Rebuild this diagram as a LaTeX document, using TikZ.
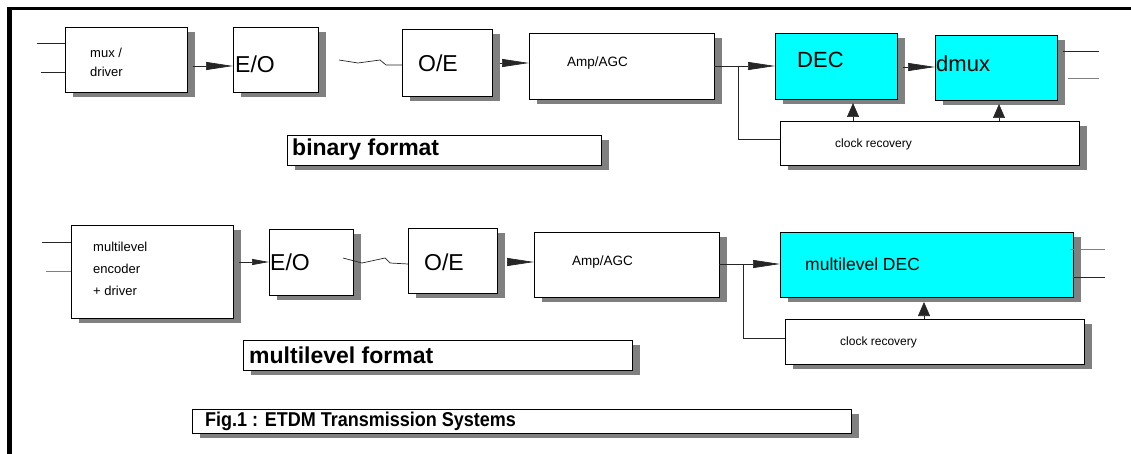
\documentclass[tikz,border=0pt]{standalone}
\usepackage{fontspec}
\usepackage{graphicx}
\setmainfont{Liberation Sans}
\usetikzlibrary{arrows.meta,shadows}
\definecolor{shd}{gray}{0.5}
\definecolor{cyanbox}{RGB}{0,255,255}
\begin{document}
\begin{tikzpicture}[x=1pt,y=-1pt,
  box/.style={draw=black, line width=0.8pt, fill=white, inner sep=0pt, outer sep=0pt, anchor=north west,
    drop shadow={shadow xshift=7.5pt, shadow yshift=-5pt, fill=shd, opacity=1}},
  cbox/.style={box, fill=cyanbox},
  lbl/.style={anchor=west, inner sep=0pt, font=\fontsize{13}{13}\selectfont},
  big/.style={anchor=west, inner sep=0pt, font=\fontsize{23}{23}\selectfont},
  ttl/.style={anchor=west, inner sep=0pt, font=\fontsize{23}{23}\selectfont\bfseries},
  wire/.style={line width=0.7pt, draw=black!85},
  arr/.style={wire, -{Triangle[length=27pt,width=8pt]}},
  sarr/.style={wire, -{Triangle[length=17pt,width=6pt]}},
  uparr/.style={wire, -{Triangle[length=14pt,width=12pt]}},
]
\useasboundingbox (0,0) rectangle (1131,454);
% frame
\draw[line width=5pt] (9,7) -- (9,454);
\draw[line width=3pt] (6.5,9) -- (1131,9);

% ---------- row 1: binary ----------
\node[box, minimum width=122pt, minimum height=65pt] (mux) at (65,27) {};
\node[box, minimum width=85pt, minimum height=65pt] (eo1) at (233,27) {};
\node[box, minimum width=90pt, minimum height=67pt] (oe1) at (402,29) {};
\node[box, minimum width=185pt, minimum height=66pt] (amp1) at (529,33) {};
\node[cbox, minimum width=122pt, minimum height=66pt] (dec1) at (775,33) {};
\node[cbox, minimum width=122pt, minimum height=65pt] (dmux) at (935,35) {};
\node[box, minimum width=299pt, minimum height=44pt] (clk1) at (780,121) {};
\node[box, minimum width=314pt, minimum height=30pt] (bin) at (287,135) {};

\node[lbl] (tmux1) at (90,53) {mux /};
\node[lbl] (tmux2) at (90,72) {driver};
\node[big] (teo1) at (235,64) {E/O};
\node[big] (toe1) at (418,63) {O/E};
\node[lbl, font=\fontsize{13.5}{13.5}\selectfont] (tamp1) at (567,63) {Amp/AGC};
\node[big, font=\fontsize{22}{22}\selectfont] (tdec1) at (797,60) {DEC};
\node[big, font=\fontsize{22}{22}\selectfont] (tdmux) at (936,64) {dmux};
\node[lbl, font=\fontsize{12}{12}\selectfont] (tclk1) at (835,144) {clock recovery};
\node[ttl] (tbin) at (292,150) {binary format};

\coordinate (in1a) at (37,43);
\coordinate (in1b) at (41,72);
\draw[wire] (in1a) -- (mux.west |- in1a);
\draw[wire] (in1b) -- (mux.west |- in1b);
\draw[arr] (mux.east |- 0,66) ++(6,0) -- (eo1.west |- 0,66);
\draw[wire] (eo1.east |- 0,60) ++(21,0) -- ++(19,3) -- ++(22,-3) -- ++(6,5) -- (oe1.west |- 0,65);
\draw[arr] (oe1.east |- 0,63) ++(8,0) -- (amp1.west |- 0,63);
\coordinate (j1) at (738,66);
\draw[wire] (amp1.east |- j1) -- (j1);
\draw[arr] (j1) -- (dec1.west |- j1);
\draw[wire] (j1) |- (clk1.west |- 0,139);
\draw[arr] (dec1.east |- 0,67) ++(6,0) -- (dmux.west |- 0,67);
\coordinate (out1a) at (1099,51);
\coordinate (out1b) at (1099,78);
\draw[wire] (dmux.east |- out1a) ++(6,0) -- (out1a);
\draw[wire, draw=black!50] (dmux.east |- out1b) ++(11,0) -- (out1b);
\draw[uparr] (clk1.north -| 853,0) -- (853,103);
\draw[uparr] (clk1.north -| 999,0) -- (999,104);

% ---------- row 2: multilevel ----------
\node[box, minimum width=162pt, minimum height=93pt] (enc) at (71,225) {};
\node[box, minimum width=84pt, minimum height=66pt] (eo2) at (269,229) {};
\node[box, minimum width=89pt, minimum height=65pt] (oe2) at (408,228) {};
\node[box, minimum width=185pt, minimum height=65pt] (amp2) at (534,232) {};
\node[cbox, minimum width=293pt, minimum height=65pt] (mdec) at (780,232) {};
\node[box, minimum width=299pt, minimum height=45pt] (clk2) at (785,319) {};
\node[box, minimum width=389pt, minimum height=30pt] (mlf) at (243,340) {};
\node[box, minimum width=659pt, minimum height=24pt] (fig) at (192,409) {};

\node[lbl] (tenc1) at (93,247) {multilevel};
\node[lbl] (tenc2) at (93,269) {encoder};
\node[lbl] (tenc3) at (93,291) {+ driver};
\node[big] (teo2) at (270,262) {E/O};
\node[big] (toe2) at (424,262) {O/E};
\node[lbl, font=\fontsize{13.5}{13.5}\selectfont] (tamp2) at (572,262) {Amp/AGC};
\node[lbl, font=\fontsize{17.5}{17.5}\selectfont] (tmdec) at (805,264) {multilevel DEC};
\node[lbl, font=\fontsize{12}{12}\selectfont] (tclk2) at (840,342) {clock recovery};
\node[ttl] (tmlf) at (249,355) {multilevel format};
\node[ttl, font=\fontsize{20}{20}\selectfont\bfseries] (tfig) at (205,421) {\scalebox{0.9}[1]{Fig.1 : ETDM Transmission Systems}};

\coordinate (in2a) at (42,242);
\coordinate (in2b) at (46,271);
\draw[wire] (in2a) -- (enc.west |- in2a);
\draw[wire, draw=black!50] (in2b) -- (enc.west |- in2b);
\draw[sarr] (enc.east |- 0,262) ++(6,0) -- (eo2.west |- 0,262);
\draw[wire] (eo2.east |- 0,258) ++(-10,0) -- ++(19,5) -- ++(23,-5) -- ++(5,5) -- (oe2.west |- 0,264);
\draw[arr] (oe2.east |- 0,262) ++(10,0) -- (amp2.west |- 0,262);
\coordinate (j2) at (743,264);
\draw[wire] (amp2.east |- j2) -- (j2);
\draw[arr] (j2) -- (mdec.west |- j2);
\draw[wire] (j2) |- (clk2.west |- 0,338);
\coordinate (out2a) at (1105,249);
\coordinate (out2b) at (1105,277);
\draw[wire, draw=black!50] (mdec.east |- out2a) ++(-3,0) -- (out2a);
\draw[wire] (mdec.east |- out2b) -- (out2b);
\draw[uparr] (clk2.north -| 924,0) -- (924,302);
\end{tikzpicture}
\end{document}
